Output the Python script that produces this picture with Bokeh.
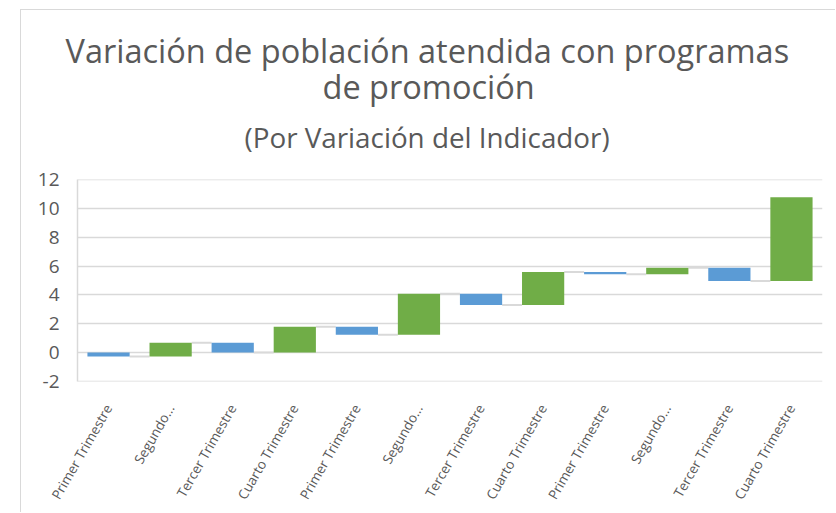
from bokeh.plotting import figure
from bokeh.models import Range1d, FixedTicker, Title, ColumnDataSource
from bokeh.embed import file_html
from bokeh.resources import INLINE

# ---- data ----
categories = ["Primer Trimestre", "Segundo...", "Tercer Trimestre", "Cuarto Trimestre",
              "Primer Trimestre", "Segundo...", "Tercer Trimestre", "Cuarto Trimestre",
              "Primer Trimestre", "Segundo...", "Tercer Trimestre", "Cuarto Trimestre"]
deltas = [-0.28, 0.95, -0.67, 1.78, -0.55, 2.85, -0.79, 2.30, -0.15, 0.44, -0.91, 5.82]
y_ticks = [-2, 0, 2, 4, 6, 8, 10, 12]
title_lines = ["Variación de población atendida con programas", "de promoción"]
subtitle = "(Por Variación del Indicador)"

BLUE = "#5B9BD5"
GREEN = "#70AD47"
GRID = "#D9D9D9"
TXT = "#595959"
FONT = "Open Sans"
BAR_W = 0.68

# waterfall computation
xs = list(range(len(deltas)))
bottoms, tops, colors = [], [], []
run = 0.0
for d in deltas:
    bottoms.append(run)
    run = run + d
    tops.append(run)
    colors.append(GREEN if d >= 0 else BLUE)

src = ColumnDataSource(dict(x=xs, bottom=bottoms, top=tops, color=colors))
conn = ColumnDataSource(dict(
    x0=[x + BAR_W / 2 for x in xs[:-1]],
    x1=[x + 1 - BAR_W / 2 for x in xs[:-1]],
    y=tops[:-1],
))

x0r, x1r = -0.5, len(deltas) - 0.5
p = figure(width=815, height=503, output_backend="svg", toolbar_location=None,
           x_range=Range1d(x0r, x1r), y_range=Range1d(min(y_ticks) - 0.02, max(y_ticks) + 0.02),
           min_border_left=56, min_border_right=14, min_border_top=169, min_border_bottom=132)
p.title = None
p.margin = (9, 0, 0, 20)
p.styles = {"border-top": "1px solid #D9D9D9", "border-left": "1px solid #D9D9D9"}
p.outline_line_color = None
p.background_fill_color = "white"
p.border_fill_color = "white"

# x axis: rotated category labels
xa = p.xaxis[0]
xa.ticker = FixedTicker(ticks=xs)
xa.major_label_overrides = {i: c for i, c in enumerate(categories)}
xa.major_label_orientation = 1.047
xa.axis_line_color = None
xa.major_tick_out = 0
xa.major_tick_in = 0
xa.minor_tick_out = 0
xa.minor_tick_in = 0
xa.major_label_text_font = FONT
xa.major_label_text_font_size = "13.5px"
xa.major_label_text_color = TXT
xa.major_label_standoff = 24
p.xgrid.visible = False

ya = p.yaxis[0]
ya.ticker = FixedTicker(ticks=y_ticks)
ya.major_label_overrides = {t: str(t) for t in y_ticks}
ya.major_tick_out = 0
ya.major_tick_in = 0
ya.minor_tick_out = 0
ya.minor_tick_in = 0
ya.axis_line_color = GRID
ya.axis_line_width = 1.5
ya.major_label_text_font = FONT
ya.major_label_text_font_size = "19px"
ya.major_label_text_color = TXT
ya.major_label_standoff = 18

p.ygrid.ticker = FixedTicker(ticks=y_ticks)
p.ygrid.grid_line_color = GRID
p.ygrid.grid_line_width = 1.5

p.segment(x0="x0", y0="y", x1="x1", y1="y", source=conn, line_color=GRID, line_width=2)
p.vbar(x="x", width=BAR_W, bottom="bottom", top="top", fill_color="color",
       line_color=None, source=src)

# titles (closest to plot first)
for txt, size, sd, off in [(subtitle, "27.8px", 48, 167),
                           (title_lines[1], "32.5px", -34, 245),
                           (title_lines[0], "32.5px", 11, -12)]:
    p.add_layout(Title(text=txt, align="left", offset=off, standoff=sd,
                       text_font=FONT, text_font_size=size, text_font_style="normal",
                       text_color=TXT), "above")

open("out.html", "w").write(file_html(p, INLINE))
